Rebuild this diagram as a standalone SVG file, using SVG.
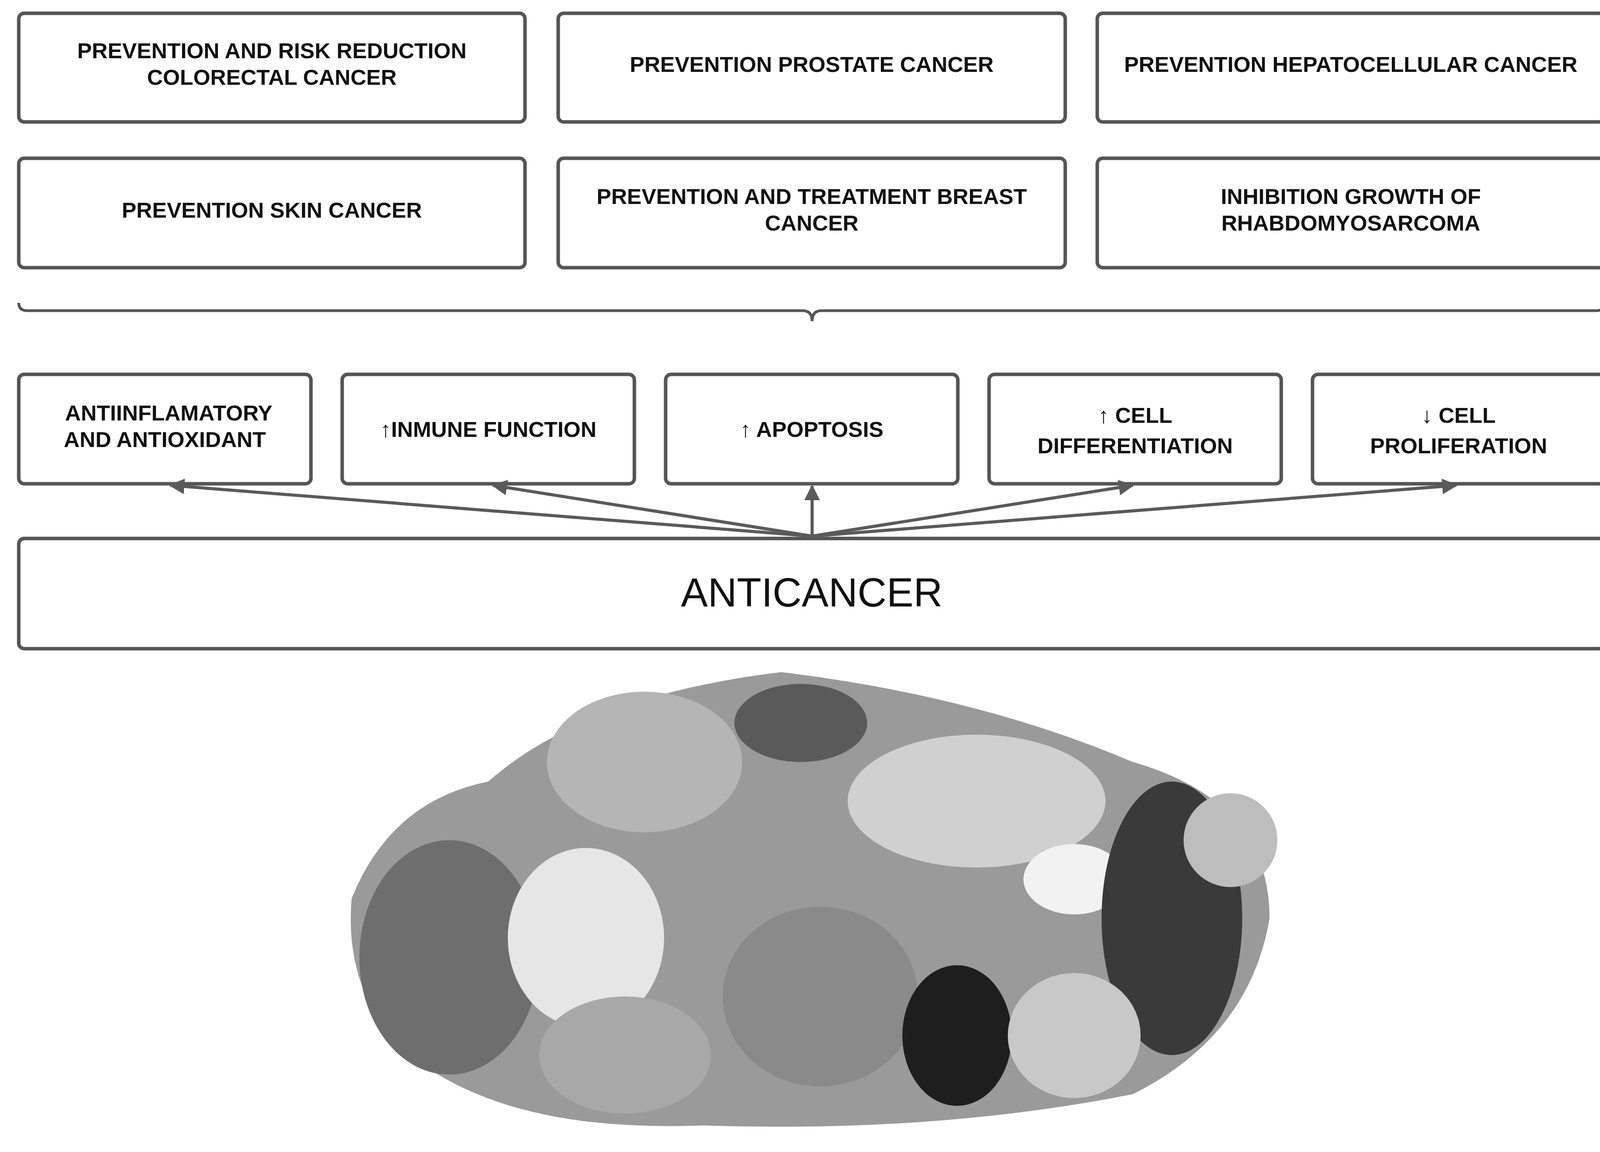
<svg xmlns="http://www.w3.org/2000/svg" width="4148" height="2948" viewBox="0 0 4148 2948">
<defs>
<style>
.box{fill:#fff;stroke:#555;stroke-width:9}
.t{font-family:"Liberation Sans",Arial,sans-serif;font-weight:bold;font-size:56px;fill:#111;text-anchor:middle}
.big{font-family:"Liberation Sans",Arial,sans-serif;font-size:103px;fill:#111;text-anchor:middle}
.c{stroke:#5a5a5a;stroke-width:8;fill:none;marker-end:url(#ah)}
</style>
<marker id="ah" viewBox="0 0 10 10" refX="9" refY="5" markerWidth="5" markerHeight="5" orient="auto" markerUnits="strokeWidth"><path d="M0,0 L10,5 L0,10 z" fill="#5a5a5a"/></marker>
</defs>
<rect width="4148" height="2948" fill="#fff"/>
<g id="n1"><rect class="box" x="48" y="34" width="1296" height="278" rx="14"/><text class="t" x="696" y="149">PREVENTION AND RISK REDUCTION</text><text class="t" x="696" y="217">COLORECTAL CANCER</text></g>
<g id="n2"><rect class="box" x="1429" y="34" width="1298" height="278" rx="14"/><text class="t" x="2078" y="184">PREVENTION PROSTATE CANCER</text></g>
<g id="n3"><rect class="box" x="2809" y="34" width="1299" height="278" rx="14"/><text class="t" x="3458" y="184">PREVENTION HEPATOCELLULAR CANCER</text></g>
<g id="n4"><rect class="box" x="48" y="405" width="1296" height="280" rx="14"/><text class="t" x="696" y="557">PREVENTION SKIN CANCER</text></g>
<g id="n5"><rect class="box" x="1429" y="405" width="1298" height="280" rx="14"/><text class="t" x="2078" y="522">PREVENTION AND TREATMENT BREAST</text><text class="t" x="2078" y="590">CANCER</text></g>
<g id="n6"><rect class="box" x="2809" y="405" width="1299" height="280" rx="14"/><text class="t" x="3458" y="522">INHIBITION GROWTH OF</text><text class="t" x="3458" y="590">RHABDOMYOSARCOMA</text></g>
<g id="brace"><path d="M48,775 Q48,795 70,795 L2055,795 Q2079,795 2079,822 Q2079,795 2103,795 L4086,795 Q4108,795 4108,775" fill="none" stroke="#555" stroke-width="7"/></g>
<g id="m1"><rect class="box" x="48" y="958" width="748" height="280" rx="14"/><text class="t" x="432" y="1076">ANTIINFLAMATORY</text><text class="t" x="422" y="1144">AND ANTIOXIDANT</text></g>
<g id="m2"><rect class="box" x="876" y="958" width="748" height="280" rx="14"/><text class="t" x="1250" y="1118">↑INMUNE FUNCTION</text></g>
<g id="m3"><rect class="box" x="1704" y="958" width="748" height="280" rx="14"/><text class="t" x="2078" y="1118">↑ APOPTOSIS</text></g>
<g id="m4"><rect class="box" x="2532" y="958" width="748" height="280" rx="14"/><text class="t" x="2906" y="1082">↑ CELL</text><text class="t" x="2906" y="1160">DIFFERENTIATION</text></g>
<g id="m5"><rect class="box" x="3360" y="958" width="748" height="280" rx="14"/><text class="t" x="3734" y="1082">↓ CELL</text><text class="t" x="3734" y="1160">PROLIFERATION</text></g>
<g id="anticancer"><rect class="box" x="48" y="1378" width="4060" height="282" rx="14"/><text class="big" x="2078" y="1552">ANTICANCER</text></g>
<g id="connectors">
<path class="c" d="M2079,1372 L436,1242"/>
<path class="c" d="M2079,1372 L1262,1242"/>
<path class="c" d="M2079,1372 L2079,1244"/>
<path class="c" d="M2079,1372 L2900,1242"/>
<path class="c" d="M2079,1372 L3728,1242"/>
</g>
<g id="food">
<path d="M900,2300 Q1000,2050 1250,2000 Q1500,1780 2000,1720 Q2500,1780 2900,1950 Q3250,2050 3250,2350 Q3200,2650 2900,2800 Q2400,2900 1800,2880 Q1300,2900 1050,2700 Q880,2550 900,2300 z" fill="#9a9a9a"/>
<ellipse cx="1150" cy="2450" rx="230" ry="300" fill="#6e6e6e"/>
<ellipse cx="1500" cy="2400" rx="200" ry="230" fill="#e6e6e6"/>
<ellipse cx="1650" cy="1950" rx="250" ry="180" fill="#b5b5b5"/>
<ellipse cx="2050" cy="1850" rx="170" ry="100" fill="#5a5a5a"/>
<ellipse cx="2500" cy="2050" rx="330" ry="170" fill="#d0d0d0"/>
<ellipse cx="2750" cy="2250" rx="130" ry="90" fill="#f2f2f2"/>
<ellipse cx="3000" cy="2350" rx="180" ry="350" fill="#3a3a3a"/>
<ellipse cx="2100" cy="2550" rx="250" ry="230" fill="#8a8a8a"/>
<ellipse cx="2450" cy="2650" rx="140" ry="180" fill="#1e1e1e"/>
<ellipse cx="2750" cy="2650" rx="170" ry="160" fill="#c8c8c8"/>
<ellipse cx="1600" cy="2700" rx="220" ry="150" fill="#a8a8a8"/>
<ellipse cx="3150" cy="2150" rx="120" ry="120" fill="#bdbdbd"/>
</g>
</svg>
